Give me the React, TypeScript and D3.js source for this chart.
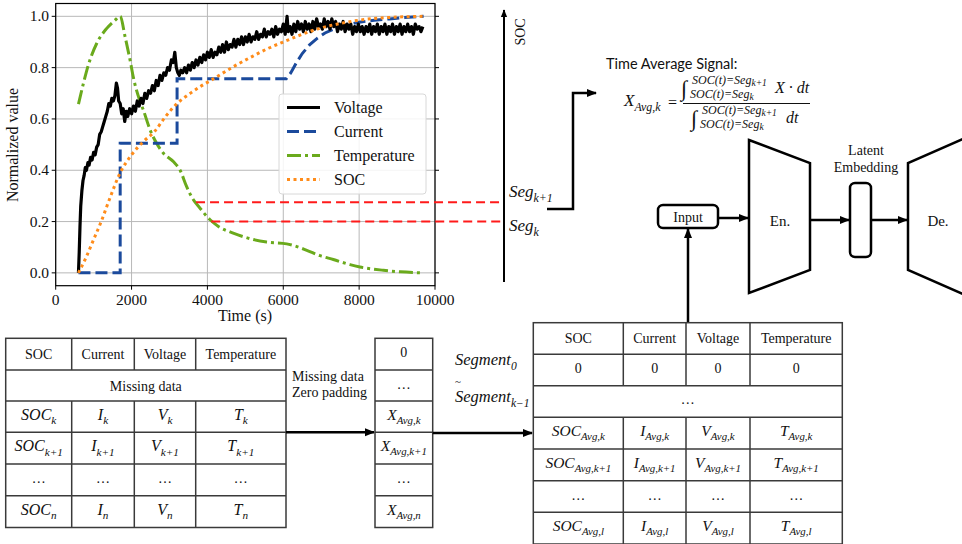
import * as d3 from "d3";

// ---- chart data ----
const xTicks = [0, 2000, 4000, 6000, 8000, 10000];
const yTicks = [0, 0.2, 0.4, 0.6, 0.8, 1.0];

const voltage: [number, number][] = [
  [600, 0.0], [620, 0.08], [640, 0.18], [660, 0.26], [690, 0.32], [720, 0.36], [750, 0.38], [780, 0.41],
  [810, 0.4], [850, 0.43], [880, 0.42], [920, 0.45], [960, 0.44], [1000, 0.47], [1040, 0.46], [1080, 0.49],
  [1120, 0.5], [1160, 0.54], [1200, 0.55], [1240, 0.57], [1280, 0.59], [1320, 0.61], [1360, 0.63], [1400, 0.66],
  [1440, 0.65], [1480, 0.68], [1520, 0.67], [1560, 0.69], [1600, 0.74], [1630, 0.72], [1660, 0.67], [1700, 0.66],
  [1740, 0.62], [1780, 0.64], [1820, 0.59], [1860, 0.63], [1900, 0.61], [1950, 0.64], [2000, 0.62], [2050, 0.65],
  [2100, 0.63], [2150, 0.67], [2200, 0.65], [2250, 0.68], [2300, 0.66], [2350, 0.7], [2400, 0.68], [2450, 0.71],
  [2500, 0.7], [2550, 0.73], [2600, 0.71], [2650, 0.75], [2700, 0.73], [2750, 0.77], [2800, 0.75], [2850, 0.78],
  [2900, 0.77], [2950, 0.8], [3000, 0.79], [3050, 0.83], [3100, 0.82], [3140, 0.86], [3180, 0.8], [3220, 0.78],
  [3260, 0.77], [3300, 0.79], [3350, 0.78], [3400, 0.8], [3450, 0.78], [3500, 0.81], [3550, 0.79], [3600, 0.82],
  [3650, 0.8], [3700, 0.83], [3750, 0.81], [3800, 0.84], [3850, 0.82], [3900, 0.85], [3950, 0.83], [4000, 0.86],
  [4050, 0.84], [4100, 0.87], [4150, 0.84], [4200, 0.86], [4250, 0.85], [4300, 0.88], [4350, 0.86], [4400, 0.89],
  [4450, 0.86], [4500, 0.9], [4550, 0.87], [4600, 0.89], [4650, 0.88], [4700, 0.91], [4750, 0.88], [4800, 0.91],
  [4850, 0.89], [4900, 0.92], [4950, 0.89], [5000, 0.92], [5050, 0.9], [5100, 0.93], [5150, 0.9], [5200, 0.92],
  [5250, 0.91], [5300, 0.94], [5350, 0.91], [5400, 0.93], [5450, 0.92], [5500, 0.95], [5550, 0.92], [5600, 0.94],
  [5650, 0.93], [5700, 0.95], [5750, 0.92], [5800, 0.96], [5850, 0.93], [5900, 0.95], [5950, 0.94], [6000, 0.97],
  [6050, 0.93], [6100, 1.0], [6130, 0.94], [6180, 0.96], [6230, 0.93], [6280, 0.97], [6330, 0.94], [6380, 0.98],
  [6430, 0.95], [6480, 0.97], [6530, 0.94], [6580, 0.98], [6630, 0.95], [6680, 0.97], [6730, 0.94], [6780, 0.98],
  [6830, 0.95], [6880, 0.99], [6930, 0.96], [6980, 0.97], [7030, 0.95], [7080, 0.99], [7130, 0.96], [7180, 0.98],
  [7230, 0.95], [7280, 0.99], [7330, 0.96], [7380, 0.98], [7430, 0.94], [7480, 0.97], [7530, 0.95], [7580, 0.98],
  [7630, 0.94], [7680, 0.97], [7730, 0.95], [7780, 0.97], [7830, 0.93], [7880, 0.96], [7930, 0.94], [7980, 0.97],
  [8030, 0.94], [8080, 0.96], [8130, 0.93], [8180, 0.96], [8230, 0.94], [8280, 0.97], [8330, 0.93], [8380, 0.96],
  [8430, 0.94], [8480, 0.97], [8530, 0.93], [8580, 0.96], [8630, 0.94], [8680, 0.97], [8730, 0.93], [8780, 0.96],
  [8830, 0.94], [8880, 0.97], [8930, 0.93], [8980, 0.96], [9030, 0.94], [9080, 0.97], [9130, 0.93], [9180, 0.96],
  [9230, 0.94], [9280, 0.97], [9330, 0.94], [9380, 0.96], [9430, 0.93], [9480, 0.97], [9530, 0.95], [9580, 0.96],
  [9630, 0.94], [9680, 0.96],
];

const current: [number, number][] = [
  [600, 0], [1700, 0], [1700, 0.505], [3200, 0.505], [3200, 0.757], [6080, 0.757], [6200, 0.78], [6350, 0.82],
  [6500, 0.855], [6700, 0.89], [6900, 0.915], [7100, 0.935], [7400, 0.955], [7700, 0.968], [8000, 0.977],
  [8400, 0.985], [8800, 0.99], [9200, 0.995], [9700, 1.0],
];

const temperature: [number, number][] = [
  [600, 0.658], [730, 0.738], [860, 0.81], [1080, 0.894], [1340, 0.952], [1560, 0.984], [1700, 1.0],
  [1830, 0.92], [1960, 0.83], [2050, 0.76], [2220, 0.67], [2310, 0.635], [2490, 0.557], [2660, 0.505],
  [2840, 0.466], [3100, 0.434], [3280, 0.4], [3450, 0.337], [3630, 0.285], [3800, 0.253], [4070, 0.207],
  [4300, 0.18], [4680, 0.155], [5210, 0.13], [5560, 0.12], [6090, 0.113], [6260, 0.107], [6620, 0.088],
  [6970, 0.067], [7320, 0.052], [7760, 0.032], [8020, 0.023], [8640, 0.01], [9080, 0.004], [9700, 0.0],
];

const soc: [number, number][] = [
  [600, 0], [800, 0.06], [1000, 0.13], [1200, 0.2], [1400, 0.28], [1700, 0.39], [2000, 0.46], [2300, 0.51],
  [2600, 0.55], [2900, 0.61], [3200, 0.66], [3500, 0.695], [3800, 0.725], [4200, 0.76], [4700, 0.805],
  [5200, 0.845], [5600, 0.875], [6000, 0.9], [6500, 0.93], [7000, 0.955], [7500, 0.972], [8000, 0.985],
  [8500, 0.993], [9000, 0.997], [9700, 1.0],
];

// SOC segment boundaries (red dashed): [start time, value]
const segUpper: [number, number] = [3700, 0.275];
const segLower: [number, number] = [4100, 0.2];

const seriesNames = ["Voltage", "Current", "Temperature", "SOC"];

// tables
const rawHeader = ["SOC", "Current", "Voltage", "Temperature"];
const rawRows = [
  [["SOC", "k"], ["I", "k"], ["V", "k"], ["T", "k"]],
  [["SOC", "k+1"], ["I", "k+1"], ["V", "k+1"], ["T", "k+1"]],
  [["…", ""], ["…", ""], ["…", ""], ["…", ""]],
  [["SOC", "n"], ["I", "n"], ["V", "n"], ["T", "n"]],
];
const avgCol = [["0", ""], ["…", ""], ["X", "Avg,k"], ["X", "Avg,k+1"], ["…", ""], ["X", "Avg,n"]];
const outRows = [
  [["0", ""], ["0", ""], ["0", ""], ["0", ""]],
  [["SOC", "Avg,k"], ["I", "Avg,k"], ["V", "Avg,k"], ["T", "Avg,k"]],
  [["SOC", "Avg,k+1"], ["I", "Avg,k+1"], ["V", "Avg,k+1"], ["T", "Avg,k+1"]],
  [["…", ""], ["…", ""], ["…", ""], ["…", ""]],
  [["SOC", "Avg,l"], ["I", "Avg,l"], ["V", "Avg,l"], ["T", "Avg,l"]],
];

const SERIF = "'Liberation Serif', 'Times New Roman', serif";
const MATH = "'Liberation Serif', serif";
const SANS = "Lato, 'Open Sans', sans-serif";

function Sub({ x, y, base, sub, size = 14, anchor = "middle", italic = true }: any) {
  const isMath = italic && base !== "…" && !/^\d/.test(base);
  return (
    <text x={x} y={y} textAnchor={anchor} fontFamily={isMath ? MATH : SERIF}
      fontStyle={isMath ? "italic" : "normal"} fontSize={isMath ? size : 14} fill="#111">
      <tspan>{base}</tspan>
      {sub ? <tspan dy={size * 0.28} fontSize={size * 0.7}>{sub}</tspan> : null}
    </text>
  );
}

function Arrow({ x1, y1, x2, y2, w = 2.5 }: any) {
  return (
    <line x1={x1} y1={y1} x2={x2} y2={y2} stroke="#000" strokeWidth={w} markerEnd="url(#ah)" />
  );
}

export default function App() {
  const left = 55.7, right = 435, top = 3.5, bottom = 285.7;
  const x = d3.scaleLinear().domain([0, 10000]).range([left, right]);
  const y = d3.scaleLinear().domain([-0.05, 1.05]).range([bottom, top]);
  const line = d3.line<[number, number]>().x((d) => x(d[0])).y((d) => y(d[1]));
  const smooth = d3.line<[number, number]>().x((d) => x(d[0])).y((d) => y(d[1])).curve(d3.curveMonotoneX);
  const socAxisX = 504;

  const styles = [
    { stroke: "#000", dash: "none", w: 3 },
    { stroke: "#1b4a9c", dash: "12,5", w: 3 },
    { stroke: "#6aaa1c", dash: "14,4,3,4", w: 3 },
    { stroke: "#ff8c1a", dash: "3,3.5", w: 3 },
  ];

  // table geometry
  const rawX = [5.7, 71.7, 134.3, 195.7, 286];
  const rawY = [338.3, 370, 401, 432.3, 464, 495.7, 527.5];
  const midX = [375, 432.7];
  const outX = [533.3, 623.3, 686, 750, 842.3];
  const outY = [322.7, 354.3, 385.7, 417.3, 449, 480.7, 512.3, 544];
  const tStroke = "#3a3a3a";

  return (
    <svg width={962} height={544} style={{ position: "absolute", left: 0, top: 0, background: "#fff" }}>
      <defs>
        <marker id="ah" viewBox="0 0 10 10" refX="9" refY="5" markerWidth="4" markerHeight="4" orient="auto">
          <path d="M0,1 L10,5 L0,9 Z" fill="#000" />
        </marker>
        <clipPath id="plot">
          <rect x={left} y={top} width={right - left} height={bottom - top} />
        </clipPath>
      </defs>
      <rect width={962} height={544} fill="#fff" />

      {/* grid */}
      {xTicks.map((t) => (
        <line key={"gx" + t} x1={x(t)} x2={x(t)} y1={top} y2={bottom} stroke="#b8b8b8" strokeWidth={1} />
      ))}
      {yTicks.map((t) => (
        <line key={"gy" + t} y1={y(t)} y2={y(t)} x1={left} x2={right} stroke="#b8b8b8" strokeWidth={1} />
      ))}

      {/* series */}
      <g clipPath="url(#plot)" fill="none">
        <path d={smooth(temperature)!} stroke={styles[2].stroke} strokeWidth={3} strokeDasharray={styles[2].dash} />
        <path d={line(current)!} stroke={styles[1].stroke} strokeWidth={3} strokeDasharray={styles[1].dash} />
        <path d={line(voltage)!} stroke="#000" strokeWidth={3.2} strokeLinejoin="round" />
        <path d={smooth(soc)!} stroke={styles[3].stroke} strokeWidth={3} strokeDasharray={styles[3].dash} />
      </g>

      {/* frame + ticks */}
      <rect x={left} y={top} width={right - left} height={bottom - top} fill="none" stroke="#000" strokeWidth={1.2} />
      {xTicks.map((t) => (
        <g key={"tx" + t}>
          <line x1={x(t)} x2={x(t)} y1={bottom} y2={bottom + 4} stroke="#000" />
          <text x={x(t)} y={305} textAnchor="middle" fontFamily={SERIF} fontSize={15.5} fill="#111">{t}</text>
        </g>
      ))}
      {yTicks.map((t) => (
        <g key={"ty" + t}>
          <line x1={left - 4} x2={left} y1={y(t)} y2={y(t)} stroke="#000" />
          <line x1={right} x2={right + 4} y1={y(t)} y2={y(t)} stroke="#000" />
          <text x={49} y={y(t) + 5} textAnchor="end" fontFamily={SERIF} fontSize={15.5} fill="#111">{t.toFixed(1)}</text>
        </g>
      ))}
      <text x={245} y={321} textAnchor="middle" fontFamily={SERIF} fontSize={16} fill="#111">Time (s)</text>
      <text transform="translate(18,145) rotate(-90)" textAnchor="middle" fontFamily={SERIF} fontSize={16} fill="#111">Normalized value</text>

      {/* legend */}
      <rect x={279} y={94} width={147} height={100} rx={3} fill="#fff" fillOpacity={0.85} stroke="#d8d8d8" />
      {seriesNames.map((n, i) => (
        <g key={n}>
          <line x1={287} x2={320} y1={107.5 + i * 24} y2={107.5 + i * 24} stroke={styles[i].stroke}
            strokeWidth={3} strokeDasharray={styles[i].dash} />
          <text x={334} y={113 + i * 24} fontFamily={SERIF} fontSize={16} fill="#111">{n}</text>
        </g>
      ))}

      {/* red segment lines */}
      {[segUpper, segLower].map((s, i) => (
        <line key={"seg" + i} x1={x(s[0])} x2={socAxisX} y1={y(s[1])} y2={y(s[1])} stroke="#ff1a1a"
          strokeWidth={2} strokeDasharray="9,5" />
      ))}

      {/* SOC axis */}
      <line x1={socAxisX} x2={socAxisX} y1={282} y2={10} stroke="#000" strokeWidth={2} markerEnd="url(#ah)" />
      <text transform="translate(525,32) rotate(-90)" textAnchor="middle" fontFamily={SERIF} fontSize={14} fill="#111">SOC</text>
      <Sub x={509} y={197} base="Seg" sub="k+1" size={17} anchor="start" />
      <Sub x={509} y={231} base="Seg" sub="k" size={17} anchor="start" />

      {/* bracket arrow to formula */}
      <path d="M547,209 H573 V93 H596" fill="none" stroke="#000" strokeWidth={2.5} markerEnd="url(#ah)" />

      {/* formula */}
      <text x={606} y={69} fontFamily={SANS} fontSize={14.5} fill="#111">Time Average Signal:</text>
      <Sub x={624} y={106} base="X" sub="Avg,k" size={17} anchor="start" />
      <text x={668} y={108} fontFamily={MATH} fontSize={16} fill="#111">=</text>
      <line x1={683} x2={810} y1={103.5} y2={103.5} stroke="#111" strokeWidth={1} />
      <g fontFamily={MATH} fontStyle="italic" fill="#111">
        <text x={681} y={96} fontSize={22} fontStyle="normal">∫</text>
        <text x={692} y={84} fontSize={12}>SOC(t)=Seg<tspan dy={2} fontSize={9.5}>k+1</tspan></text>
        <text x={690} y={98} fontSize={12}>SOC(t)=Seg<tspan dy={2} fontSize={9.5}>k</tspan></text>
        <text x={775} y={93} fontSize={16}>X · dt</text>
        <text x={691} y={126} fontSize={22} fontStyle="normal">∫</text>
        <text x={702} y={114} fontSize={12}>SOC(t)=Seg<tspan dy={2} fontSize={9.5}>k+1</tspan></text>
        <text x={700} y={128} fontSize={12}>SOC(t)=Seg<tspan dy={2} fontSize={9.5}>k</tspan></text>
        <text x={786} y={123} fontSize={16}>dt</text>
      </g>

      {/* autoencoder */}
      <g fill="#fff" stroke="#000" strokeWidth={2.5}>
        <path d="M749,140 L810,163 L810,270 L749,293 Z" />
        <rect x={850} y={183} width={21} height={74} rx={5} />
        <path d="M965,138 L908,163 L908,270 L965,295" />
        <rect x={658} y={205} width={60} height={23} rx={5} />
      </g>
      <text x={780} y={226} textAnchor="middle" fontFamily={SERIF} fontSize={15} fill="#111">En.</text>
      <text x={938} y={226} textAnchor="middle" fontFamily={SERIF} fontSize={15} fill="#111">De.</text>
      <text x={866} y={155} textAnchor="middle" fontFamily={SERIF} fontSize={14} fill="#111">Latent</text>
      <text x={866} y={172} textAnchor="middle" fontFamily={SERIF} fontSize={14} fill="#111">Embedding</text>
      <text x={688} y={222} textAnchor="middle" fontFamily={SERIF} fontSize={14} fill="#111">Input</text>
      <Arrow x1={718} y1={218} x2={748} y2={218} />
      <Arrow x1={810} y1={220} x2={849} y2={220} />
      <Arrow x1={871} y1={220} x2={907} y2={220} />
      <Arrow x1={688} y1={323} x2={688} y2={229} />

      {/* raw data table */}
      <g stroke={tStroke} strokeWidth={1.5} fill="none">
        <rect x={rawX[0]} y={rawY[0]} width={rawX[4] - rawX[0]} height={rawY[6] - rawY[0]} fill="#fff" />
        {rawY.slice(1, 6).map((v) => <line key={"ry" + v} x1={rawX[0]} x2={rawX[4]} y1={v} y2={v} />)}
        {rawX.slice(1, 4).map((v) => (
          <g key={"rx" + v}>
            <line x1={v} x2={v} y1={rawY[0]} y2={rawY[1]} />
            <line x1={v} x2={v} y1={rawY[2]} y2={rawY[6]} />
          </g>
        ))}
      </g>
      {rawHeader.map((h, i) => (
        <text key={"rh" + h} x={(rawX[i] + rawX[i + 1]) / 2} y={359} textAnchor="middle" fontFamily={SERIF} fontSize={14} fill="#111">{h}</text>
      ))}
      <text x={(rawX[0] + rawX[4]) / 2} y={390.5} textAnchor="middle" fontFamily={SERIF} fontSize={14} fill="#111">Missing data</text>
      {rawRows.map((r, ri) =>
        r.map((c, ci) => (
          <Sub key={"rr" + ri + ci} x={(rawX[ci] + rawX[ci + 1]) / 2} y={(rawY[ri + 2] + rawY[ri + 3]) / 2 + 3}
            base={c[0]} sub={c[1]} size={16} />
        ))
      )}

      <text x={292} y={381} fontFamily={SERIF} fontSize={14} fill="#111">Missing data</text>
      <text x={292} y={397} fontFamily={SERIF} fontSize={14} fill="#111">Zero padding</text>
      <Arrow x1={286} y1={432.3} x2={374} y2={432.3} />

      {/* averaged column */}
      <g stroke={tStroke} strokeWidth={1.5} fill="#fff">
        <rect x={midX[0]} y={rawY[0]} width={midX[1] - midX[0]} height={rawY[6] - rawY[0]} />
        {rawY.slice(1, 6).map((v) => <line key={"my" + v} x1={midX[0]} x2={midX[1]} y1={v} y2={v} />)}
      </g>
      {avgCol.map((c, i) => (
        <Sub key={"ac" + i} x={(midX[0] + midX[1]) / 2} y={(rawY[i] + rawY[i + 1]) / 2 + 3} base={c[0]} sub={c[1]} size={15.5} />
      ))}

      <Sub x={455} y={365} base="Segment" sub="0" size={16.5} anchor="start" />
      <text x={455} y={385} fontFamily={SERIF} fontSize={11} fill="#111">~</text>
      <Sub x={455} y={402} base="Segment" sub="k−1" size={16.5} anchor="start" />
      <Arrow x1={432.7} y1={433} x2={532} y2={433} />

      {/* output table */}
      <g stroke={tStroke} strokeWidth={1.5} fill="none">
        <rect x={outX[0]} y={outY[0]} width={outX[4] - outX[0]} height={outY[7] - outY[0]} fill="#fff" />
        {outY.slice(1, 7).map((v) => <line key={"oy" + v} x1={outX[0]} x2={outX[4]} y1={v} y2={v} />)}
        {outX.slice(1, 4).map((v) => (
          <g key={"ox" + v}>
            <line x1={v} x2={v} y1={outY[0]} y2={outY[2]} />
            <line x1={v} x2={v} y1={outY[3]} y2={outY[7]} />
          </g>
        ))}
      </g>
      {rawHeader.map((h, i) => (
        <text key={"oh" + h} x={(outX[i] + outX[i + 1]) / 2} y={343} textAnchor="middle" fontFamily={SERIF} fontSize={14} fill="#111">{h}</text>
      ))}
      <text x={(outX[0] + outX[4]) / 2} y={404} textAnchor="middle" fontFamily={SERIF} fontSize={14} fill="#111">…</text>
      {outRows.map((r, ri) =>
        r.map((c, ci) => {
          const row = ri === 0 ? 1 : ri + 2;
          return (
            <Sub key={"or" + ri + ci} x={(outX[ci] + outX[ci + 1]) / 2} y={(outY[row] + outY[row + 1]) / 2 + 3}
              base={c[0]} sub={c[1]} size={15.5} />
          );
        })
      )}
    </svg>
  );
}
